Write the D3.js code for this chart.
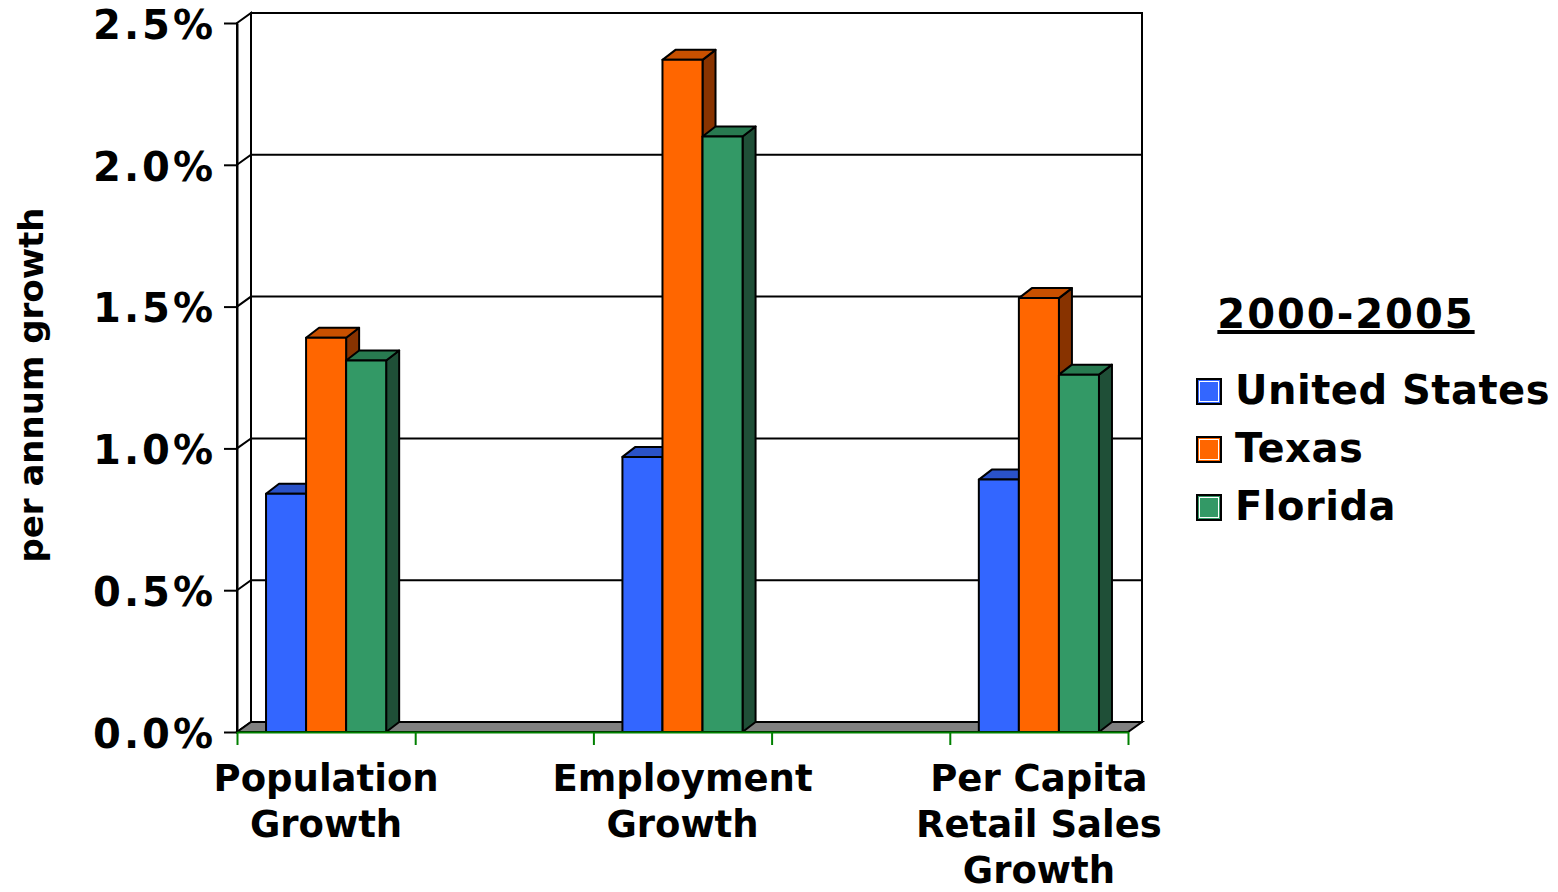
<!DOCTYPE html>
<html>
<head>
<meta charset="utf-8">
<script src="https://cdn.jsdelivr.net/npm/d3@7/dist/d3.min.js"></script>
<style>
  html, body { margin: 0; padding: 0; background: #fff; }
  svg { display: block; }
  text { font-family: Verdana, "DejaVu Sans", sans-serif; font-weight: bold; fill: #000; }
</style>
</head>
<body>
<svg id="chart" width="1558" height="892"></svg>
<script>
// ---- data ----
const categoryLabels = [["Population", "Growth"], [], ["Employment", "Growth"], [], ["Per Capita", "Retail Sales", "Growth"]];
const seriesNames = ["United States", "Texas", "Florida"];
const usValues      = [0.84, null, 0.97, null, 0.89];
const texasValues   = [1.39, null, 2.37, null, 1.53];
const floridaValues = [1.31, null, 2.10, null, 1.26];
const yTicks = [0, 0.5, 1.0, 1.5, 2.0, 2.5];
const legendTitle = "2000-2005";
const yAxisTitle = "per annum growth";

const seriesValues = [usValues, texasValues, floridaValues];
const faceColors = ["#3366FF", "#FF6600", "#339966"];
const topColors  = ["#2A52C8", "#C85000", "#287A50"];
const sideColors = ["#1A3380", "#883300", "#1F4F37"];

// ---- layout ----
const svg = d3.select("#chart");
const left = 237, right = 1128, zeroY = 732, topY = 23;
const DX = 14, DY = -10;      // wall depth offset
const BDX = 13, BDY = -10;    // bar depth offset

const y = d3.scaleLinear().domain([0, 2.5]).range([zeroY, topY]);
const slots = d3.range(categoryLabels.length);
const x = d3.scaleBand().domain(slots).range([left, right]).paddingInner(0).paddingOuter(0);
const xSub = d3.scaleBand().domain(d3.range(seriesNames.length)).range([0, x.bandwidth()]).paddingInner(0).paddingOuter(0.725);
const xEdge = d3.scaleLinear().domain([0, slots.length]).range([left, right]);

const g = svg.append("g");

// side wall
g.append("path")
  .attr("d", `M${left},${y(2.5)} L${left+DX},${y(2.5)+DY} L${left+DX},${y(0)+DY} L${left},${y(0)} Z`)
  .attr("fill", "#fff").attr("stroke", "#000").attr("stroke-width", 2);
// back wall
g.append("rect")
  .attr("x", left + DX).attr("y", y(2.5) + DY)
  .attr("width", right - left).attr("height", y(0) - y(2.5))
  .attr("fill", "#fff").attr("stroke", "#000").attr("stroke-width", 2);

// gridlines
yTicks.filter(v => v > 0 && v < 2.5).forEach(v => {
  g.append("path")
    .attr("d", `M${left},${y(v)} L${left+DX},${y(v)+DY} L${right+DX},${y(v)+DY}`)
    .attr("fill", "none").attr("stroke", "#000").attr("stroke-width", 2);
});

// floor
g.append("path")
  .attr("d", `M${left},${y(0)} L${right},${y(0)} L${right+DX},${y(0)+DY} L${left+DX},${y(0)+DY} Z`)
  .attr("fill", "#808080").attr("stroke", "#000").attr("stroke-width", 2);

// bars
slots.forEach(i => {
  seriesValues.forEach((vals, s) => {
    const v = vals[i];
    if (v == null) return;
    const x0 = x(i) + xSub(s), w = xSub.bandwidth();
    const yt = y(v), yb = y(0);
    const bg = g.append("g").attr("stroke", "#000").attr("stroke-width", 2).attr("stroke-linejoin", "round");
    bg.append("path")
      .attr("d", `M${x0+w},${yt} L${x0+w+BDX},${yt+BDY} L${x0+w+BDX},${yb+BDY} L${x0+w},${yb} Z`)
      .attr("fill", sideColors[s]);
    bg.append("path")
      .attr("d", `M${x0},${yt} L${x0+BDX},${yt+BDY} L${x0+w+BDX},${yt+BDY} L${x0+w},${yt} Z`)
      .attr("fill", topColors[s]);
    bg.append("rect")
      .attr("x", x0).attr("y", yt).attr("width", w).attr("height", yb - yt)
      .attr("fill", faceColors[s]);
  });
});

// y axis
const yAxis = d3.axisLeft(y).tickValues(yTicks).tickFormat(d => d.toFixed(1) + "%").tickSize(13).tickSizeOuter(0).tickPadding(8);
const ya = svg.append("g").attr("transform", `translate(${left},0)`).call(yAxis);
ya.select(".domain").attr("stroke", "#000").attr("stroke-width", 2);
ya.selectAll(".tick line").attr("stroke", "#000").attr("stroke-width", 2);
ya.selectAll(".tick text")
  .attr("font-family", "Verdana, 'DejaVu Sans', sans-serif")
  .attr("font-weight", "bold").attr("font-size", 40).attr("letter-spacing", 3)
  .attr("dy", "0.38em").attr("fill", "#000");

// x axis
const xAxis = d3.axisBottom(xEdge).tickValues(d3.range(slots.length + 1)).tickFormat("").tickSize(13).tickSizeOuter(0);
const xa = svg.append("g").attr("transform", `translate(0,${zeroY})`).call(xAxis);
xa.select(".domain").attr("stroke", "#008000").attr("stroke-width", 2);
xa.selectAll(".tick line").attr("stroke", "#008000").attr("stroke-width", 2);

// category labels
slots.forEach(i => {
  const lines = categoryLabels[i];
  if (!lines.length) return;
  const cx = x(i) + x.bandwidth() / 2;
  const t = svg.append("text")
    .attr("text-anchor", "middle")
    .attr("font-size", 37);
  lines.forEach((ln, k) => {
    t.append("tspan").attr("x", cx).attr("y", 791 + k * 46).text(ln);
  });
});

// y axis title
svg.append("text")
  .attr("transform", "translate(43,385) rotate(-90)")
  .attr("text-anchor", "middle")
  .attr("font-size", 34)
  .text(yAxisTitle);

// legend
const lg = svg.append("g");
lg.append("text")
  .attr("x", 1346).attr("y", 328)
  .attr("text-anchor", "middle")
  .attr("font-size", 40).attr("letter-spacing", 2)
  .attr("text-decoration", "underline")
  .text(legendTitle);
seriesNames.forEach((name, s) => {
  const base = 404 + s * 58;
  lg.append("rect")
    .attr("x", 1197).attr("y", base - 25).attr("width", 24).attr("height", 25)
    .attr("fill", faceColors[s]).attr("stroke", "#000").attr("stroke-width", 2);
  lg.append("rect")
    .attr("x", 1199.5).attr("y", base - 22.5).attr("width", 19).attr("height", 20)
    .attr("fill", "none").attr("stroke", "#fff").attr("stroke-width", 1);
  lg.append("text")
    .attr("x", 1235).attr("y", base)
    .attr("font-size", 40).attr("letter-spacing", 0.5)
    .text(name);
});
</script>
</body>
</html>
